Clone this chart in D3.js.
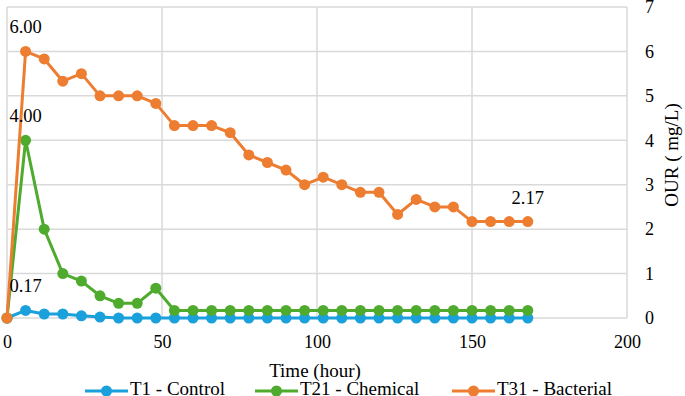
<!DOCTYPE html>
<html>
<head>
<meta charset="utf-8">
<script src="https://cdn.jsdelivr.net/npm/d3@7"></script>
<style>
  html, body { margin: 0; padding: 0; background: #fff; }
  svg { display: block; }
  svg text { font-family: "Liberation Serif", "Times New Roman", Times, "DejaVu Serif", serif; fill: #000; }
</style>
</head>
<body>
<svg id="chart" width="685" height="396"></svg>
<script>
// sampling times (hours)
const hours = [0, 6, 12, 18, 24, 30, 36, 42, 48, 54, 60, 66, 72, 78, 84, 90, 96,
  102, 108, 114, 120, 126, 132, 138, 144, 150, 156, 162, 168];

const control = [0, 0.17, 0.09, 0.09, 0.05, 0.02, 0, 0, 0, 0, 0, 0, 0, 0, 0, 0, 0,
  0, 0, 0, 0, 0, 0, 0, 0, 0, 0, 0, 0];
const chemical = [0, 4.0, 2.0, 1.0, 0.83, 0.5, 0.33, 0.33, 0.67, 0.17, 0.17, 0.17, 0.17, 0.17, 0.17, 0.17, 0.17,
  0.17, 0.17, 0.17, 0.17, 0.17, 0.17, 0.17, 0.17, 0.17, 0.17, 0.17, 0.17];
const bacterial = [0, 6.0, 5.83, 5.33, 5.5, 5.0, 5.0, 5.0, 4.83, 4.33, 4.33, 4.33, 4.17, 3.67, 3.5, 3.33, 3.0,
  3.17, 3.0, 2.83, 2.83, 2.33, 2.67, 2.5, 2.5, 2.17, 2.17, 2.17, 2.17];

const seriesNames = ['T1 - Control', 'T21 - Chemical', 'T31 - Bacterial'];
const seriesColors = ['#1aa0db', '#4eab2e', '#ed7d31'];

const xTicks = [0, 50, 100, 150, 200];
const yTicks = [0, 1, 2, 3, 4, 5, 6, 7];

// point labels: [series index, point index, text]
const pointLabels = [[2, 1, '6.00'], [1, 1, '4.00'], [0, 1, '0.17'], [2, 28, '2.17']];

const svg = d3.select('#chart');
const plotLeft = 7, plotRight = 627, plotTop = 7, plotBottom = 318;

const x = d3.scaleLinear().domain([0, 200]).range([plotLeft, plotRight]);
const y = d3.scaleLinear().domain([0, 7]).range([plotBottom, plotTop]);

const grid = svg.append('g');
grid.selectAll('.hg').data(yTicks).enter().append('line')
  .attr('x1', plotLeft).attr('x2', plotRight)
  .attr('y1', d => y(d)).attr('y2', d => y(d))
  .attr('stroke', '#d9d9d9').attr('stroke-width', 1.5);
grid.selectAll('.vg').data(xTicks).enter().append('line')
  .attr('y1', plotTop).attr('y2', plotBottom)
  .attr('x1', d => x(d)).attr('x2', d => x(d))
  .attr('stroke', '#d9d9d9').attr('stroke-width', 1.5);

// x axis labels
const xAxis = svg.append('g')
  .attr('transform', `translate(0, ${plotBottom})`)
  .call(d3.axisBottom(x).tickValues(xTicks).tickFormat(d3.format('d')).tickSize(0).tickPadding(17));
xAxis.select('.domain').remove();
xAxis.attr('font-family', null).attr('font-size', 18);

// right y axis labels
const yAxis = svg.append('g')
  .attr('transform', `translate(${plotRight}, 0)`)
  .call(d3.axisRight(y).tickValues(yTicks).tickFormat(d3.format('d')).tickSize(0).tickPadding(18));
yAxis.select('.domain').remove();
yAxis.attr('font-family', null).attr('font-size', 18);

svg.append('text')
  .attr('x', 315).attr('y', 377)
  .attr('text-anchor', 'middle').attr('font-size', 19)
  .text('Time (hour)');

svg.append('text')
  .attr('transform', 'translate(678, 155) rotate(-90)')
  .attr('text-anchor', 'middle').attr('font-size', 19)
  .text('OUR ( mg/L)');

const allSeries = [control, chemical, bacterial];
const line = d3.line().x((d, i) => x(hours[i])).y(d => y(d));

allSeries.forEach((vals, s) => {
  const g = svg.append('g');
  g.append('path').datum(vals)
    .attr('d', line)
    .attr('fill', 'none')
    .attr('stroke', seriesColors[s])
    .attr('stroke-width', 3)
    .attr('stroke-linejoin', 'round');
  g.selectAll('circle').data(vals).enter().append('circle')
    .attr('cx', (d, i) => x(hours[i]))
    .attr('cy', d => y(d))
    .attr('r', 5.5)
    .attr('fill', seriesColors[s]);
});

svg.selectAll('.plabel').data(pointLabels).enter().append('text')
  .attr('x', d => x(hours[d[1]]))
  .attr('y', d => y(allSeries[d[0]][d[1]]) - 18)
  .attr('text-anchor', 'middle')
  .attr('font-size', 18.5)
  .text(d => d[2]);

// legend
const legendX = [85, 255, 452];
const legend = svg.selectAll('.lg').data(seriesNames).enter().append('g')
  .attr('transform', (d, i) => `translate(${legendX[i]}, 391)`);
legend.append('line')
  .attr('x1', 0).attr('x2', 43)
  .attr('stroke', (d, i) => seriesColors[i]).attr('stroke-width', 3);
legend.append('circle')
  .attr('cx', 21.5).attr('r', 5.5)
  .attr('fill', (d, i) => seriesColors[i]);
legend.append('text')
  .attr('x', 45).attr('y', 4)
  .attr('font-size', 19)
  .text(d => d);
</script>
</body>
</html>
